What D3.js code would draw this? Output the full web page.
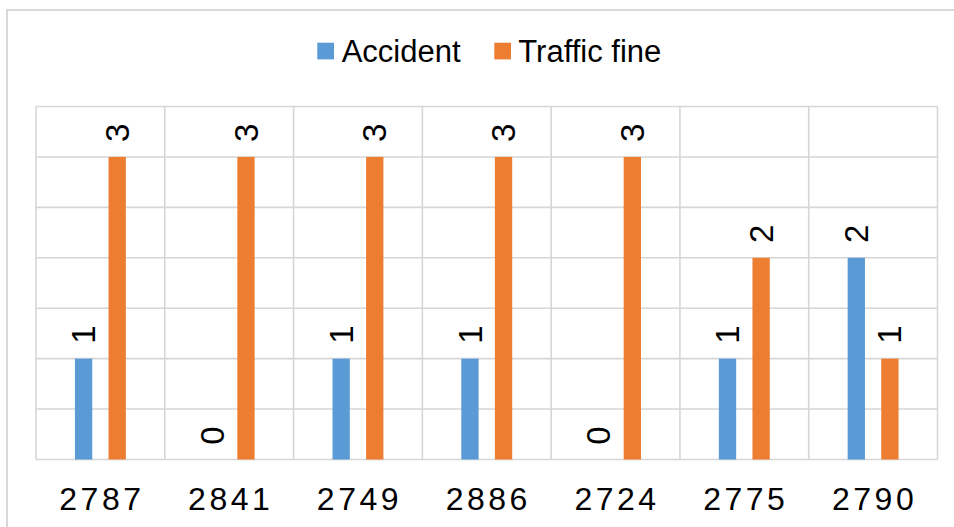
<!DOCTYPE html>
<html>
<head>
<meta charset="utf-8">
<script src="https://cdn.jsdelivr.net/npm/d3@7"></script>
<style>
  html, body { margin: 0; padding: 0; background: #fff; overflow: hidden; }
  svg { display: block; font-family: "Liberation Sans", Arial, sans-serif; }
</style>
</head>
<body>
<svg id="chart" width="954" height="527"></svg>
<script>
// Chart data
const categories = ["2787", "2841", "2749", "2886", "2724", "2775", "2790"];
const seriesNames = ["Accident", "Traffic fine"];
const accident = [1, 0, 1, 1, 0, 1, 2];
const trafficFine = [3, 3, 3, 3, 3, 2, 1];
const seriesColors = ["#5b9bd5", "#ed7d31"];

const svg = d3.select("#chart");
const W = 954, H = 527;
const plot = { left: 36, right: 937.5, top: 106.5, bottom: 459.5 };

// Chart frame
svg.append("rect")
  .attr("x", 7).attr("y", 10)
  .attr("width", W + 20).attr("height", H + 20)
  .attr("fill", "#fff")
  .attr("stroke", "#d9d9d9").attr("stroke-width", 2);

const x0 = d3.scaleBand().domain(categories).range([plot.left, plot.right]).padding(0);
const x1 = d3.scaleBand().domain(seriesNames).range([0, x0.bandwidth()])
  .paddingInner(0.485).paddingOuter(1.159);
const y = d3.scaleLinear().domain([0, 3.5]).range([plot.bottom, plot.top]);

// Horizontal gridlines
const grid = svg.append("g").attr("stroke", "#d6d6d6").attr("stroke-width", 1.6);
grid.selectAll("line.h").data(y.ticks(7)).join("line")
  .attr("class", "h")
  .attr("x1", plot.left).attr("x2", plot.right)
  .attr("y1", d => y(d)).attr("y2", d => y(d));

// Vertical gridlines at category boundaries
const bounds = categories.map(c => x0(c)).concat([plot.right]);
grid.selectAll("line.v").data(bounds).join("line")
  .attr("class", "v")
  .attr("x1", d => d).attr("x2", d => d)
  .attr("y1", plot.top).attr("y2", plot.bottom);

// Bars and value labels
const rows = categories.map((c, i) => ({ cat: c, values: [accident[i], trafficFine[i]] }));
const groups = svg.append("g").selectAll("g").data(rows).join("g")
  .attr("transform", d => `translate(${x0(d.cat)},0)`);

groups.selectAll("rect").data(d => d.values.map((v, k) => ({ v, k })))
  .join("rect")
  .attr("x", d => x1(seriesNames[d.k]))
  .attr("width", x1.bandwidth())
  .attr("y", d => y(d.v))
  .attr("height", d => y(0) - y(d.v))
  .attr("fill", d => seriesColors[d.k]);

groups.selectAll("text").data(d => d.values.map((v, k) => ({ v, k })))
  .join("text")
  .attr("transform", d => `translate(${x1(seriesNames[d.k]) + x1.bandwidth() / 2},${y(d.v) - 24}) rotate(-90)`)
  .attr("text-anchor", "middle")
  .attr("dy", "0.35em")
  .attr("font-size", 33)
  .attr("fill", "#000")
  .text(d => d.v);

// Category axis labels
svg.append("g").selectAll("text").data(categories).join("text")
  .attr("x", d => x0(d) + x0.bandwidth() / 2 + 1.5)
  .attr("y", 509.5)
  .attr("text-anchor", "middle")
  .attr("font-size", 32)
  .attr("letter-spacing", 3.5)
  .attr("fill", "#000")
  .text(d => d);

// Legend
const legendItems = [
  { name: seriesNames[0], color: seriesColors[0], sx: 317.3, tx: 341.7 },
  { name: seriesNames[1], color: seriesColors[1], sx: 494.3, tx: 518.3 }
];
const legend = svg.append("g");
legend.selectAll("rect").data(legendItems).join("rect")
  .attr("x", d => d.sx).attr("y", 42.7)
  .attr("width", 16.7).attr("height", 16.7)
  .attr("fill", d => d.color);
legend.selectAll("text").data(legendItems).join("text")
  .attr("x", d => d.tx).attr("y", 61.7)
  .attr("font-size", 31)
  .attr("fill", "#000")
  .text(d => d.name);
</script>
</body>
</html>
